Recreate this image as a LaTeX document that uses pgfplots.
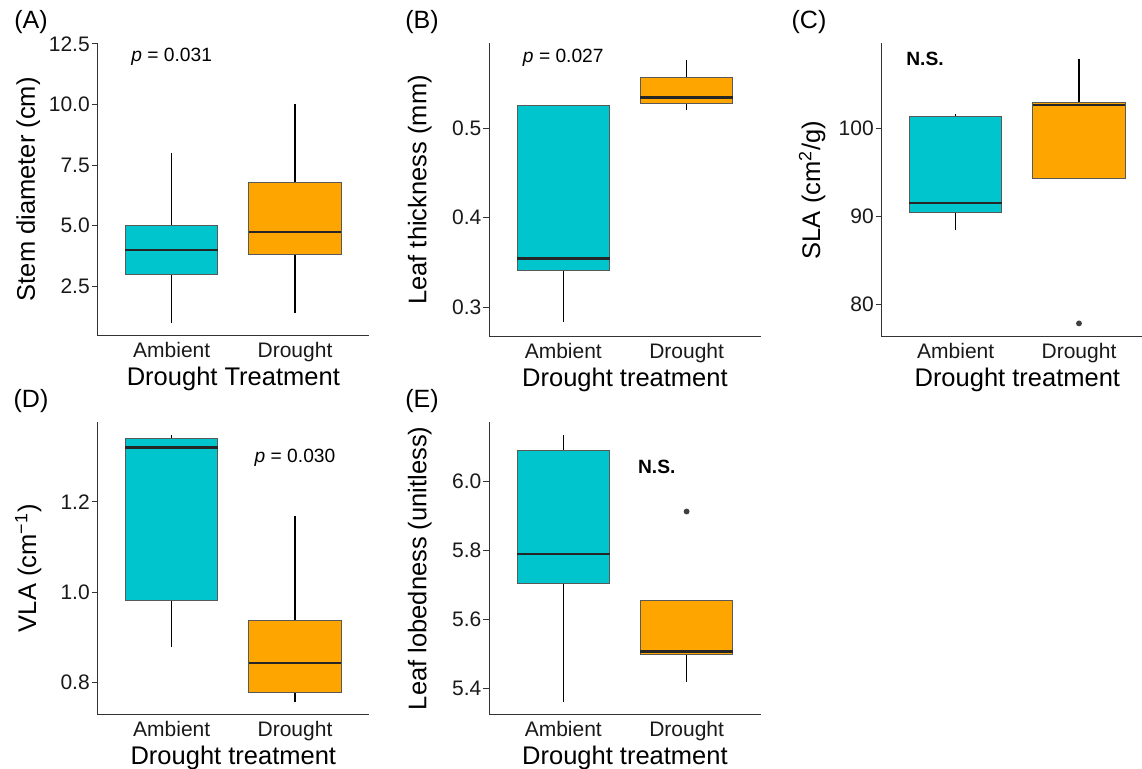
\documentclass[border=0pt]{standalone}
\usepackage{pgfplots}
\pgfplotsset{compat=1.18}
\usepgfplotslibrary{statistics}
\usepackage{fontspec}
\setmainfont{Liberation Sans}
\definecolor{tealc}{HTML}{00C5CD}
\definecolor{orangec}{HTML}{FFA500}
\pgfplotsset{
 panel/.style={
  width=135.65pt, height=146.7pt, scale only axis,
  axis lines=left, axis line style={-, black!80, line width=0.5pt},
  xmin=0.4, xmax=2.6, xtick={1,2}, xticklabels={Ambient,Drought},
  xtick style={draw=none},
  ytick style={black!80, line width=0.5pt},
  tick align=outside, major tick length=3pt,
  /pgf/number format/assume math mode=true,
  tick label style={font=\fontsize{10.5}{12}\selectfont, text=black!90},
  label style={font=\fontsize{12.75}{15}\selectfont},
  xticklabel style={anchor=north, inner sep=0pt, yshift=0pt},
  yticklabel style={inner sep=0.8pt},
  xlabel={Drought treatment},
  xlabel style={at={(axis description cs:0.5,0)}, anchor=north, inner sep=0pt, yshift=-15.5pt},
  ylabel style={at={([xshift=-34.75pt]axis description cs:0,0.5)}, anchor=center},
  clip=false,
  boxplot/draw direction=y,
  boxplot/box extend=0.75,
  boxplot/whisker extend=0,
  boxplot/every whisker/.style={black, line width=0.6pt},
  boxplot/every median/.style={black!85, line width=1.2pt},
 },
 amb/.style={fill=tealc, draw=black!65, line width=0.5pt, mark=*, mark size=1.2pt, mark options={fill=black!75, draw=black!75}},
 dro/.style={fill=orangec, draw=black!65, line width=0.5pt, mark=*, mark size=1.2pt, mark options={fill=black!75, draw=black!75}},
}
\newcommand{\ptxt}{\fontsize{9.6}{11}\selectfont}
\begin{document}
\begin{tikzpicture}
% (A)
\begin{axis}[panel, at={(48.85pt,216.5pt)}, anchor=south west,
  ymin=0.45, ymax=12.55, ytick={2.5,5,7.5,10,12.5},
  yticklabel style={/pgf/number format/.cd, fixed, fixed zerofill, precision=1},
  ylabel={Stem diameter (cm)}, xlabel={Drought Treatment}]
\addplot[amb, boxplot prepared={draw position=1, lower whisker=1.0, lower quartile=3.0, median=4.0, upper quartile=5.0, upper whisker=8.0}] coordinates {};
\addplot[dro, boxplot prepared={draw position=2, lower whisker=1.4, lower quartile=3.8, median=4.74, upper quartile=6.76, upper whisker=10.0}] coordinates {};
\node[font=\ptxt] at (axis cs:1,11.95) {\textit{p} = 0.031};
\end{axis}
% (B)
\begin{axis}[panel, at={(244.65pt,216.15pt)}, anchor=south west,
  ymin=0.267, ymax=0.595, ytick={0.3,0.4,0.5},
  yticklabel style={/pgf/number format/.cd, fixed, fixed zerofill, precision=1},
  ylabel={Leaf thickness (mm)}]
\addplot[amb, boxplot prepared={draw position=1, lower whisker=0.283, lower quartile=0.341, median=0.3546, upper quartile=0.526, upper whisker=0.526}] coordinates {};
\addplot[dro, boxplot prepared={draw position=2, lower whisker=0.5205, lower quartile=0.528, median=0.5345, upper quartile=0.5568, upper whisker=0.5762}] coordinates {};
\node[font=\ptxt] at (axis cs:1,0.579) {\textit{p} = 0.027};
\end{axis}
% (C)
\begin{axis}[panel, at={(440.85pt,216.15pt)}, anchor=south west,
  ymin=76.29, ymax=109.64, ytick={80,90,100},
  ylabel={SLA (cm\textsuperscript{2}/g)}]
\addplot[amb, boxplot prepared={draw position=1, lower whisker=88.4, lower quartile=90.4, median=91.46, upper quartile=101.33, upper whisker=101.6}] coordinates {};
\addplot[dro, boxplot prepared={draw position=2, lower whisker=94.26, lower quartile=94.26, median=102.65, upper quartile=102.95, upper whisker=107.9}] table[row sep=\\, y index=0] {y\\ 77.8\\};
\node[font=\ptxt\bfseries] at (axis cs:0.751,107.87) {N.S.};
\end{axis}
% (D)
\begin{axis}[panel, at={(48.85pt,27pt)}, anchor=south west,
  ymin=0.7286, ymax=1.377, ytick={0.8,1.0,1.2},
  yticklabel style={/pgf/number format/.cd, fixed, fixed zerofill, precision=1},
  ylabel={VLA (cm\textsuperscript{−1})}]
\addplot[amb, boxplot prepared={draw position=1, lower whisker=0.8785, lower quartile=0.9823, median=1.320, upper quartile=1.34, upper whisker=1.347}] coordinates {};
\addplot[dro, boxplot prepared={draw position=2, lower whisker=0.758, lower quartile=0.778, median=0.844, upper quartile=0.938, upper whisker=1.169}] coordinates {};
\node[font=\ptxt] at (axis cs:2,1.296) {\textit{p} = 0.030};
\end{axis}
% (E)
\begin{axis}[panel, at={(244.65pt,27pt)}, anchor=south west,
  ymin=5.3225, ymax=6.174, ytick={5.4,5.6,5.8,6.0},
  yticklabel style={/pgf/number format/.cd, fixed, fixed zerofill, precision=1},
  ylabel={Leaf lobedness (unitless)}]
\addplot[amb, boxplot prepared={draw position=1, lower whisker=5.361, lower quartile=5.7036, median=5.79, upper quartile=6.091, upper whisker=6.135}] coordinates {};
\addplot[dro, boxplot prepared={draw position=2, lower whisker=5.417, lower quartile=5.497, median=5.507, upper quartile=5.656, upper whisker=5.656}] table[row sep=\\, y index=0] {y\\ 5.913\\};
\node[font=\ptxt\bfseries] at (axis cs:1.758,6.0435) {N.S.};
\end{axis}
\begin{scope}[font=\fontsize{12.5}{15}\selectfont]
\node at (15.5pt,373.5pt) {(A)};
\node at (211pt,373.5pt) {(B)};
\node at (404.5pt,373.5pt) {(C)};
\node at (15.5pt,184pt) {(D)};
\node at (211pt,184pt) {(E)};
\end{scope}
\pgfresetboundingbox
\path[use as bounding box] (0,0) rectangle (571pt,384.5pt);
\end{tikzpicture}
\end{document}
